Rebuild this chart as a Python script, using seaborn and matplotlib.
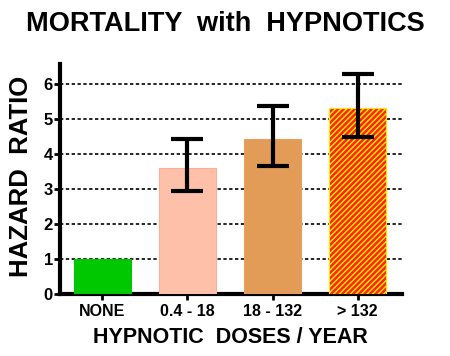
import matplotlib
matplotlib.use("agg")
import matplotlib.pyplot as plt
import seaborn as sns
import pandas as pd
import numpy as np
from matplotlib.ticker import MultipleLocator

# values
categories = ["NONE", "0.4 - 18", "18 - 132", "> 132"]
hazard_ratio = [1.0, 3.6, 4.43, 5.31]
ci_low = [np.nan, 2.93, 3.66, 4.49]
ci_high = [np.nan, 4.43, 5.37, 6.29]
bar_colors = ["#00c800", "#ffc0aa", "#e29c58", "#ff2000"]

df = pd.DataFrame({"dose": categories, "hr": hazard_ratio})

sns.set_style("white")
plt.rcParams["font.family"] = ["Liberation Sans", "DejaVu Sans"]
plt.rcParams["hatch.linewidth"] = 1.1
for key in ["text.color", "axes.labelcolor", "xtick.color", "ytick.color"]:
    plt.rcParams[key] = "black"

fig = plt.figure(figsize=(4.5, 3.56), dpi=100)
ax = fig.add_axes([0.133, 0.174, 0.76, 0.635])

sns.barplot(data=df, x="dose", y="hr", hue="dose", palette=bar_colors,
            saturation=1, width=0.67, legend=False, ax=ax, zorder=3)

# pale outline on the pink / orange bars, hatching on the last one
ax.patches[0].set_edgecolor("#00c800")
ax.patches[1].set_edgecolor("#f8b098")
ax.patches[2].set_edgecolor("#e8a060")
ax.patches[3].set_hatch("//////")
ax.patches[3].set_edgecolor("#ffe600")
for p in ax.patches:
    p.set_linewidth(0.8)

# error bars (CI)
x = np.arange(len(categories))
hr = np.array(hazard_ratio)
lo = hr - np.array(ci_low)
hi = np.array(ci_high) - hr
ax.errorbar(x[1:], hr[1:], yerr=[lo[1:], hi[1:]], fmt="none", ecolor="black",
            elinewidth=3, capsize=11.5, capthick=3, zorder=5)

ax.set_xlim(-0.5, 3.52)
ax.yaxis.set_major_locator(MultipleLocator(1))
ax.yaxis.set_minor_locator(MultipleLocator(0.1))
for yv in range(1, 7):
    ax.axhline(yv, color="black", linestyle=(0, (2, 1.5)), linewidth=1.2, zorder=1)

for side in ["top", "right"]:
    ax.spines[side].set_visible(False)
for side in ["left", "bottom"]:
    ax.spines[side].set_linewidth(3)
    ax.spines[side].set_color("black")
ax.spines["left"].set_bounds(0, 6.55)
ax.set_ylim(0, 6.45)

ax.tick_params(axis="y", which="major", direction="out", length=4, width=2,
               labelsize=12, pad=1, left=True)
ax.tick_params(axis="y", which="minor", direction="inout", length=3, width=1.2, left=True)
ax.tick_params(axis="x", which="major", direction="out", length=4, width=2,
               labelsize=11.5, pad=3, bottom=True)
for lab in ax.get_xticklabels() + ax.get_yticklabels():
    lab.set_fontweight("bold")

ax.set_xlabel("HYPNOTIC  DOSES / YEAR", fontsize=15.5, fontweight="bold", labelpad=6)
ax.set_ylabel("HAZARD  RATIO", fontsize=18.5, fontweight="bold")
ax.yaxis.set_label_coords(-0.078, 0.52)
fig.suptitle("MORTALITY  with  HYPNOTICS", fontsize=19.5, fontweight="bold",
             x=0.5, y=0.968)

fig.savefig("out.png", dpi=100)
